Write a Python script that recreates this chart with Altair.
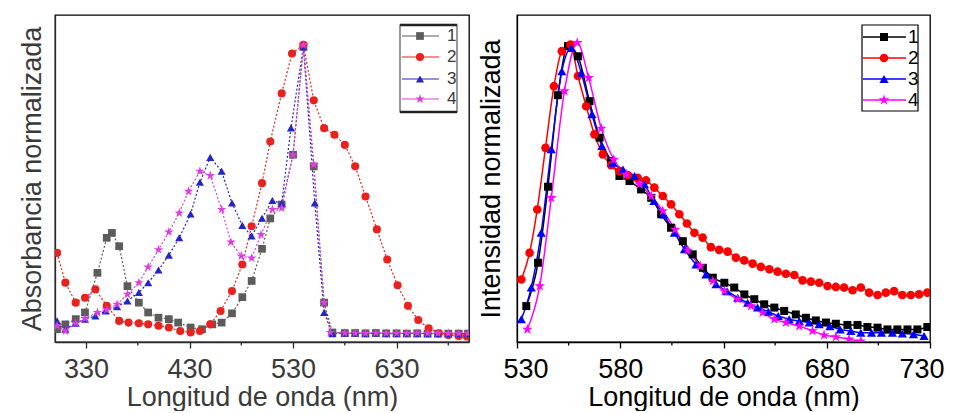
import altair as alt
import pandas as pd

SERIES = ["1", "2", "3", "4"]

# ---------------- Left panel: absorbance (normalised) ----------------
abs_wl_1 = [302, 310, 320, 329, 341, 350, 355, 362, 370, 381, 390, 400, 410, 419, 431, 442, 452, 461, 471, 481,
            490, 500, 508, 519, 530, 540, 550, 560, 568, 580, 590, 600, 610, 620, 630, 640, 650, 660, 670, 680, 690, 699]
abs_1 = [0.017, 0.034, 0.052, 0.075, 0.212, 0.333, 0.350, 0.304, 0.166, 0.109, 0.075, 0.057, 0.052, 0.040, 0.023,
         0.017, 0.034, 0.040, 0.072, 0.128, 0.184, 0.295, 0.40, 0.448, 0.620, 0.993, 0.580, 0.109, 0.006, 0.004,
         0.004, 0.003, 0.004, 0.003, 0.003, 0.002, 0.003, 0.002, 0.002, 0.002, 0.002, 0.002]

abs_wl_2 = [302, 310, 320, 329, 339, 350, 362, 371, 381, 390, 400, 410, 421, 431, 440, 450, 460, 471, 481, 490,
            500, 508, 519, 529, 540, 550, 560, 570, 580, 590, 600, 611, 621, 631, 641, 651, 661, 671, 680, 690, 698]
abs_2 = [0.281, 0.178, 0.109, 0.126, 0.155, 0.098, 0.046, 0.040, 0.038, 0.034, 0.029, 0.023, 0.011, 0.006, 0.011,
         0.034, 0.080, 0.149, 0.241, 0.373, 0.522, 0.666, 0.832, 0.970, 1.0, 0.808, 0.712, 0.689, 0.654, 0.580,
         0.476, 0.362, 0.258, 0.169, 0.098, 0.049, 0.020, 0.003, -0.003, -0.006, -0.008]

abs_wl_3 = [302, 310, 320, 329, 339, 349, 360, 370, 381, 390, 400, 410, 420, 431, 440, 450, 461, 471, 481, 490,
            500, 510, 519, 528, 540, 551, 560, 568, 580, 590, 600, 610, 620, 630, 640, 650, 660, 670, 680, 690, 699]
abs_3 = [0.046, 0.017, 0.038, 0.052, 0.063, 0.080, 0.095, 0.115, 0.144, 0.178, 0.222, 0.273, 0.333, 0.415, 0.525,
         0.611, 0.563, 0.453, 0.376, 0.339, 0.401, 0.462, 0.452, 0.713, 0.993, 0.453, 0.075, 0.002, 0.003, 0.003,
         0.002, 0.003, 0.002, 0.002, 0.003, 0.002, 0.002, 0.002, 0.002, 0.002, 0.002]

abs_wl_4 = [302, 310, 320, 329, 341, 350, 360, 370, 381, 390, 400, 410, 420, 429, 440, 450, 461, 470, 480, 490,
            499, 510, 519, 530, 540, 550, 560, 566, 580, 590, 600, 610, 620, 630, 640, 650, 660, 670, 680, 690, 699]
abs_4 = [0.029, 0.011, 0.038, 0.054, 0.075, 0.084, 0.103, 0.138, 0.178, 0.232, 0.292, 0.353, 0.419, 0.494, 0.563,
         0.548, 0.431, 0.318, 0.270, 0.263, 0.344, 0.431, 0.436, 0.620, 0.999, 0.586, 0.109, 0.006, 0.004, 0.004,
         0.003, 0.004, 0.003, 0.003, 0.003, 0.004, 0.003, 0.003, 0.003, 0.003, 0.003]

# ---------------- Right panel: emission (normalised) ----------------
em_wl_1 = [534.5, 540.2, 545.0, 549.8, 554.7, 559.5, 565.1, 570.0, 575.6, 579.6, 584.5, 590.1, 595.0, 599.8,
           604.6, 610.3, 615.1, 620.0, 624.8, 630.4, 635.2, 640.1, 644.9, 649.7, 654.6, 659.4, 665.0, 669.9,
           674.7, 679.6, 684.4, 690.0, 694.9, 699.7, 704.6, 709.4, 714.2, 719.1, 723.9, 728.7]
em_1 = [0.120, 0.265, 0.519, 0.825, 0.989, 0.955, 0.805, 0.683, 0.605, 0.555, 0.538, 0.510, 0.482, 0.427, 0.382,
        0.337, 0.293, 0.248, 0.215, 0.198, 0.182, 0.159, 0.143, 0.126, 0.115, 0.104, 0.092, 0.081, 0.072, 0.065,
        0.061, 0.057, 0.057, 0.050, 0.048, 0.042, 0.042, 0.042, 0.042, 0.050]

em_wl_2 = [532.1, 536.1, 539.8, 543.8, 547.9, 551.7, 555.9, 559.5, 563.5, 567.5, 571.6, 575.6, 579.6, 583.6,
           588.5, 592.5, 596.5, 600.6, 604.6, 608.6, 612.3, 615.9, 619.9, 623.9, 627.9, 632.0, 636.0, 640.0,
           644.1, 648.1, 652.2, 656.2, 660.2, 664.3, 668.3, 672.3, 676.3, 680.4, 684.4, 688.4, 692.5, 696.5,
           700.5, 704.6, 708.6, 712.6, 716.6, 720.7, 724.7, 728.7]
em_2 = [0.209, 0.298, 0.443, 0.649, 0.855, 0.972, 0.994, 0.889, 0.788, 0.694, 0.627, 0.591, 0.571, 0.558, 0.549,
        0.540, 0.516, 0.488, 0.460, 0.427, 0.396, 0.365, 0.349, 0.317, 0.308, 0.302, 0.282, 0.273, 0.262, 0.251,
        0.243, 0.235, 0.228, 0.224, 0.206, 0.202, 0.198, 0.187, 0.184, 0.182, 0.173, 0.182, 0.165, 0.157, 0.165,
        0.170, 0.157, 0.157, 0.159, 0.165]

em_wl_3 = [532.1, 536.9, 541.7, 546.6, 551.7, 556.3, 561.1, 566.3, 571.1, 576.4, 581.3, 586.9, 591.7, 596.3,
           601.1, 606.2, 611.1, 616.7, 621.5, 626.4, 631.7, 636.9, 641.7, 646.5, 651.7, 656.5, 661.8, 666.7,
           671.5, 676.3, 681.5, 686.5, 691.7, 696.5, 701.7, 706.5, 711.8, 716.6, 722.0, 727.1]
em_3 = [0.076, 0.182, 0.365, 0.644, 0.905, 0.983, 0.900, 0.761, 0.655, 0.599, 0.577, 0.555, 0.527, 0.471, 0.426,
        0.365, 0.310, 0.259, 0.226, 0.193, 0.170, 0.148, 0.131, 0.115, 0.101, 0.087, 0.076, 0.070, 0.065, 0.059,
        0.053, 0.042, 0.037, 0.031, 0.031, 0.031, 0.031, 0.028, 0.026, 0.020]

em_wl_4 = [535.0, 541.0, 546.6, 553.0, 559.2, 564.7, 570.8, 576.9, 582.9, 589.3, 595.0, 600.6, 606.6, 612.7,
           618.8, 624.8, 630.4, 636.9, 643.3, 648.9, 654.6, 660.2, 666.7, 673.1, 678.7, 684.4, 690.8, 696.5]
em_4 = [0.042, 0.187, 0.482, 0.839, 1.0, 0.883, 0.714, 0.610, 0.560, 0.527, 0.488, 0.438, 0.376, 0.306, 0.254,
        0.204, 0.170, 0.143, 0.120, 0.098, 0.076, 0.065, 0.053, 0.037, 0.023, 0.017, 0.009, 0.003]

abs_ticks = [330, 430, 530, 630]
abs_minor = [380, 480, 580, 680]
em_ticks = [530, 580, 630, 680, 730]
em_minor = [555, 605, 655, 705]

FONT = "Liberation Sans"
W_L, W_R, H = 414, 413, 327
STAR = ("M0,-1L0.2245,-0.309L0.951,-0.309L0.3633,0.118L0.5878,0.809L0,0.382"
        "L-0.5878,0.809L-0.3633,0.118L-0.951,-0.309L-0.2245,-0.309Z")
SHAPES = ["square", "circle", "triangle-up", STAR]


def frame(wls, vals):
    rows = []
    for s, w, v in zip(SERIES, wls, vals):
        rows += [{"s": s, "wl": a, "v": b} for a, b in zip(w, v)]
    return pd.DataFrame(rows)


def panel(df, colors, sizes, xdom, ticks, minor, ydom, ytitle, txt, axc, line_kw, lg, W, title_pad, lab_size,
          flush_off):
    color = alt.Color("s:N", scale=alt.Scale(domain=SERIES, range=colors), legend=None)
    shape = alt.Shape("s:N", scale=alt.Scale(domain=SERIES, range=SHAPES), legend=None)
    x = alt.X("wl:Q", scale=alt.Scale(domain=xdom, nice=False, zero=False),
              axis=alt.Axis(values=ticks, title="Longitud de onda (nm)", labelFlush=True,
                            labelFlushOffset=flush_off,
                            labelFont=FONT, titleFont=FONT, labelFontSize=27, titleFontSize=27,
                            labelColor=txt, titleColor=txt, titleFontWeight="normal",
                            tickSize=6, tickWidth=1.3, tickColor=axc, domainColor=axc, domainWidth=1.3,
                            labelPadding=8, titlePadding=2, grid=False))
    y = alt.Y("v:Q", scale=alt.Scale(domain=ydom, nice=False, zero=False),
              axis=alt.Axis(title=ytitle, labels=False, ticks=False, grid=False,
                            titleFont=FONT, titleFontSize=27, titleColor=txt, titleFontWeight="normal",
                            domainColor=axc, domainWidth=1.3, titlePadding=title_pad))
    base = alt.Chart(df)
    layers = [base.mark_line(clip=True, **line_kw).encode(x=x, y=y, color=color, detail="s:N")]
    for s, sz in zip(SERIES, sizes):
        layers.append(base.transform_filter(alt.datum.s == s).mark_point(
            filled=True, opacity=1, clip=True, size=sz).encode(x=x, y=y, color=color, shape=shape))
    layers.append(alt.Chart(pd.DataFrame({"wl": minor})).mark_rule(color=axc, strokeWidth=1.3).encode(
        x=alt.X("wl:Q"), y=alt.value(H), y2=alt.value(H + 3.5)))

    # legend built from the series list
    ldf = pd.DataFrame({"s": SERIES})
    one_row = alt.Chart(pd.DataFrame({"a": [0]}))
    bx0, bx1, by0, by1 = lg["box"]
    layers.append(one_row.mark_rect(fill="white", stroke=lg["stroke"], strokeWidth=1.2).encode(
        x=alt.value(bx0), x2=alt.value(bx1), y=alt.value(by0), y2=alt.value(by1)))
    if lg["thick"]:
        for yy in (by0, by1):
            layers.append(one_row.mark_rule(color="#222222", strokeWidth=2.4).encode(
                x=alt.value(bx0), x2=alt.value(bx1), y=alt.value(yy)))
    for s, sz, ry in zip(SERIES, sizes, lg["rows"]):
        one = alt.Chart(ldf).transform_filter(alt.datum.s == s)
        layers.append(one.mark_rule(strokeWidth=line_kw.get("strokeWidth", 1.5)).encode(
            x=alt.value(lg["line"][0]), x2=alt.value(lg["line"][1]), y=alt.value(ry), color=color))
        layers.append(one.mark_point(filled=True, opacity=1, size=sz).encode(
            x=alt.value(lg["mark"]), y=alt.value(ry), color=color, shape=shape))
        layers.append(one.mark_text(align="left", baseline="middle", font=FONT, fontSize=lab_size,
                                    color=txt).encode(x=alt.value(lg["text"]), y=alt.value(ry), text="s:N"))
    return alt.layer(*layers).properties(width=W, height=H)


left = panel(
    frame([abs_wl_1, abs_wl_2, abs_wl_3, abs_wl_4], [abs_1, abs_2, abs_3, abs_4]),
    ["#5c5c5c", "#e8231f", "#2424c8", "#e03ce0"], [60, 66, 66, 100],
    [300, 700], abs_ticks, abs_minor, [-0.027, 1.103], "Absorbancia normalizada",
    "#3a3a3a", "#2a2a2a", {"strokeWidth": 1.2, "strokeDash": [2, 2]},
    {"rows": [21, 42, 64, 84], "box": [345, 402, 10, 97], "line": [347, 384], "mark": 365, "text": 392,
     "stroke": "#555555", "thick": True},
    W_L, 9, 17, 0)

right = panel(
    frame([em_wl_1, em_wl_2, em_wl_3, em_wl_4], [em_1, em_2, em_3, em_4]),
    ["#000000", "#ff0000", "#0000ff", "#ff00ff"], [64, 75, 85, 125],
    [530, 730], em_ticks, em_minor, [0, 1.093], "Intensidad normalizada",
    "#000000", "#000000", {"strokeWidth": 1.5, "interpolate": "monotone"},
    {"rows": [22, 43, 64, 85], "box": [345, 401, 10, 96], "line": [346, 389], "mark": 367, "text": 391,
     "stroke": "#000000", "thick": False},
    W_R, 12, 19, 14)

chart = alt.hconcat(left, right, spacing=6).resolve_scale(
    color="independent", shape="independent"
).properties(
    padding={"left": 9, "top": 6, "right": 0, "bottom": 0}
).configure_view(stroke="#000000", strokeWidth=1.3)

chart.save("out.html", embed_options={"renderer": "svg", "actions": False})
